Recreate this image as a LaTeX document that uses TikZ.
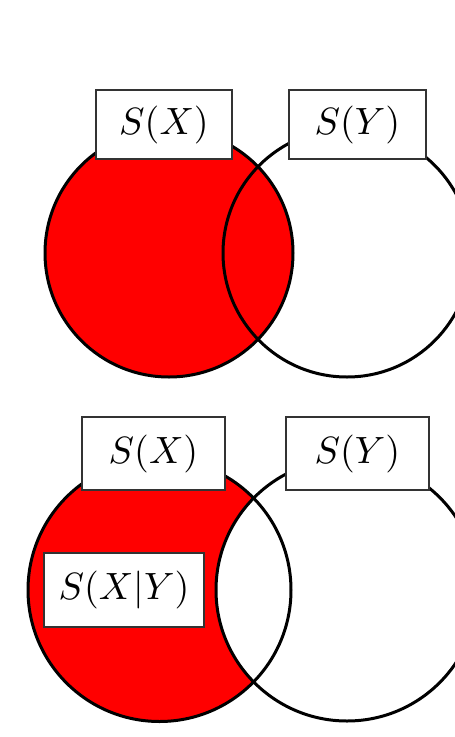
\documentclass[tikz,border=0pt]{standalone}
\usepackage{graphicx}
\newcommand{\vennlbl}[1]{\scalebox{3.8}{$#1$}}
\begin{document}
\begin{tikzpicture}[x=1pt,y=-1pt,
  ring/.style={draw=black,line width=3pt},
  tagbox/.style={draw=black!80,line width=1.8pt,fill=white,inner sep=0pt},
]
\useasboundingbox (0,0) rectangle (455,737);
\clip (0,0) rectangle (455,737);
% ---- top diagram ----
\fill[red] (169,253) circle[radius=124pt];
\draw[ring] (169,253) circle[radius=124pt];
\draw[ring] (347,253) circle[radius=124pt];
\node[tagbox,minimum width=136pt,minimum height=69pt] (sx1) at (164,124.5) {\vennlbl{S(X)}};
\node[tagbox,minimum width=137pt,minimum height=69pt] (sy1) at (357.5,124.5) {\vennlbl{S(Y)}};
% ---- bottom diagram ----
\fill[red] (159.5,590) circle[radius=131.5pt];
\begin{scope}
  \clip (159.5,590) circle[radius=131.5pt];
  \fill[white] (347,590) circle[radius=131pt];
\end{scope}
\draw[ring] (159.5,590) circle[radius=131.5pt];
\draw[ring] (347,590) circle[radius=131pt];
\node[tagbox,minimum width=143pt,minimum height=73pt] (sx2) at (153.5,453.5) {\vennlbl{S(X)}};
\node[tagbox,minimum width=143pt,minimum height=73pt] (sy2) at (357.5,453.5) {\vennlbl{S(Y)}};
\node[tagbox,minimum width=160pt,minimum height=74pt] (sxy) at (124,590) {\vennlbl{S(X|Y)}};
\end{tikzpicture}
\end{document}
